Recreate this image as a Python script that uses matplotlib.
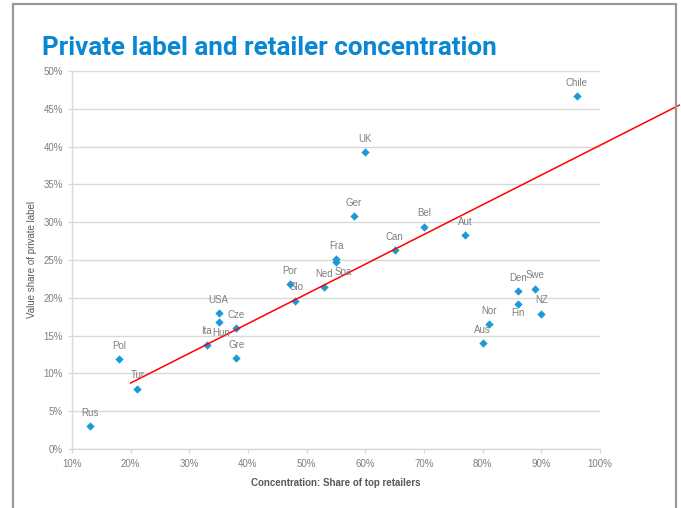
import matplotlib.pyplot as plt
from matplotlib.patches import Rectangle
from matplotlib.ticker import FuncFormatter, MultipleLocator

countries = ['Rus', 'Pol', 'Tur', 'Ita', 'USA', 'Hun', 'Cze', 'Gre', 'Por', 'Slo',
             'Ned', 'Fra', 'Spa', 'Ger', 'UK', 'Can', 'Bel', 'Aut', 'Aus', 'Nor',
             'Den', 'Fin', 'Swe', 'NZ', 'Chile']
concentration = [13, 18, 21, 33, 35, 35, 38, 38, 47.2, 48,
                 53, 55, 55, 58, 60, 65, 70, 77, 80, 81,
                 86, 86, 89, 90, 96]
private_share = [3.0, 11.9, 8.0, 13.8, 18.0, 16.8, 16.0, 12.0, 21.8, 19.6,
                 21.4, 25.1, 24.8, 30.8, 39.3, 26.3, 29.4, 28.3, 14.0, 16.5,
                 20.9, 19.2, 21.2, 17.9, 46.7]

# fitted trend line (share = slope * concentration + intercept)
trend_slope = 0.393
trend_intercept = 0.87
trend_x = [20, 113.5]

blue = '#1a9ad6'
grey_txt = '#7f7f7f'

# label offsets in points, default is centred above the marker
offsets = {'Spa': (5, -4), 'Slo': (1, 6), 'Fin': (0, -3), 'Hun': (2, -4),
           'Tur': (1, 6)}

fig = plt.figure(figsize=(6.81, 5.08), dpi=100)
ax = fig.add_axes([72 / 681, 1 - 449 / 508, 528 / 681, 378 / 508])

ax.scatter(concentration, private_share, marker='D', s=18, color=blue,
           linewidths=0, zorder=3)
ty = [trend_slope * x + trend_intercept for x in trend_x]
ax.plot(trend_x, ty, color='#ff0000', lw=1.1, zorder=4, clip_on=False)

for name, x, y in zip(countries, concentration, private_share):
    dx, dy = offsets.get(name, (0, 6))
    ax.annotate(name, (x, y), xytext=(dx, dy), textcoords='offset points',
                ha='center', va='bottom' if dy > 0 else 'top',
                fontsize=7, color=grey_txt, family='Liberation Sans', zorder=5)

ax.set_xlim(10, 100)
ax.set_ylim(0, 50)
ax.xaxis.set_major_locator(MultipleLocator(10))
ax.yaxis.set_major_locator(MultipleLocator(5))
pct = FuncFormatter(lambda v, p: f'{v:.0f}%')
ax.xaxis.set_major_formatter(pct)
ax.yaxis.set_major_formatter(pct)
ax.grid(axis='y', color='#d9d9d9', lw=1)
ax.set_axisbelow(True)
for side in ('top', 'right'):
    ax.spines[side].set_visible(False)
for side in ('left', 'bottom'):
    ax.spines[side].set_color('#d9d9d9')
    ax.spines[side].set_linewidth(1)
ax.tick_params(axis='both', colors='#d9d9d9', length=3, width=1,
               labelcolor='#7f7f7f', labelsize=7)
ax.tick_params(axis='x', pad=4)
for lab in ax.get_xticklabels() + ax.get_yticklabels():
    lab.set_family('Liberation Sans')

ax.set_xlabel('Concentration: Share of top retailers', fontsize=7,
              fontweight='bold', color='#595959', family='Liberation Sans',
              labelpad=7)
ax.set_ylabel('Value share of private label', fontsize=7, color='#595959',
              family='Liberation Sans', labelpad=5)

fig.text(42 / 681, 1 - 55 / 508, 'Private label and retailer concentration',
         fontsize=18.7, fontweight='bold', color='#0a87d2', family='Roboto',
         ha='left', va='baseline')

# outer frame
fig.patches.append(Rectangle((13 / 681, -0.05), 663 / 681, 1 - 4 / 508 + 0.05,
                             transform=fig.transFigure, fill=False,
                             edgecolor='#999999', lw=1.6, zorder=0))

fig.savefig('out.png', dpi=100)
